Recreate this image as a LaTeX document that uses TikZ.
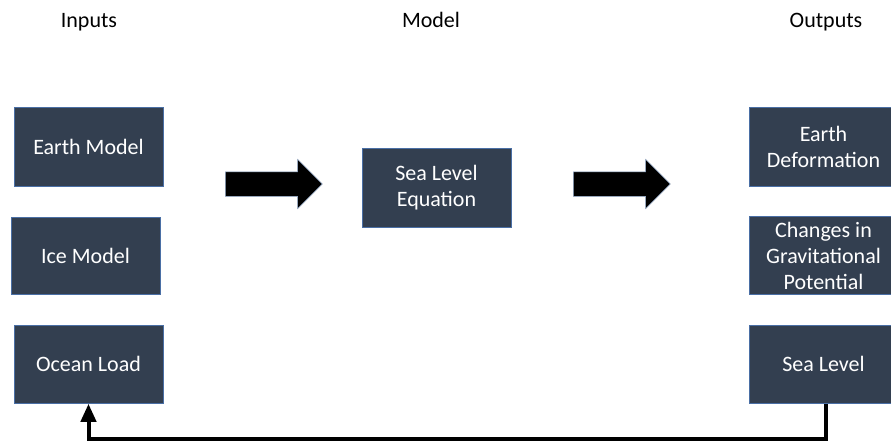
\documentclass[tikz,border=0pt]{standalone}
\usepackage{fontspec}
\setmainfont{Carlito}
\usetikzlibrary{arrows.meta,positioning,shapes.arrows}

\definecolor{slate}{HTML}{333F50}
\definecolor{boxedge}{HTML}{4A6FA5}

\begin{document}
\begin{tikzpicture}[x=1pt,y=-1pt,node distance=30pt,
    every node/.style={font=\fontsize{22}{26}\selectfont},
    heading/.style={anchor=base},
    block/.style={fill=slate,draw=boxedge,line width=0.7pt,text=white,
      minimum width=149pt,minimum height=79pt,align=center,inner sep=1pt},
    bigarrow/.style={single arrow,fill=black,draw=boxedge!60,line width=0.5pt,
      minimum height=97pt,inner sep=12pt,single arrow head extend=12.5pt,anchor=west},
    feedback/.style={line width=4pt,-{Triangle[width=15pt,length=18pt]}}]
      \useasboundingbox (0,0) rectangle (891,445);

      \node[heading] (inputs)  at (89,27)  {Inputs};
      \node[heading] (model)   at (431,27) {Model};
      \node[heading] (outputs) at (826,27) {Outputs};

      \node[block] (earth) at (88.5,146.5)                {Earth Model};
      \node[block,minimum height=77pt] (ice) [below=31pt of earth,xshift=-3pt] {Ice Model};
      \node[block,minimum height=78pt] (ocean) [below=30pt of ice,xshift=3pt] {Ocean Load};

      \node[block] (sle)   at (436.5,187.5)       {Sea Level\\Equation};

      \node[block] (deform)    at (823.5,146.5)  {Earth\\Deformation};
      \node[block,minimum height=78pt] (potential) [below=30pt of deform] {Changes in\\Gravitational\\Potential};
      \node[block,minimum height=78pt] (sealevel)  [below=30pt of potential] {Sea Level};

      \node[bigarrow] (arrowin)  at (225,184) {};
      \node[bigarrow] (arrowout) at (573,184) {};

      \draw[feedback] ([xshift=2.5pt]sealevel.south) -- ++(0,35) -| (ocean.south);
    \end{tikzpicture}
\end{document}
